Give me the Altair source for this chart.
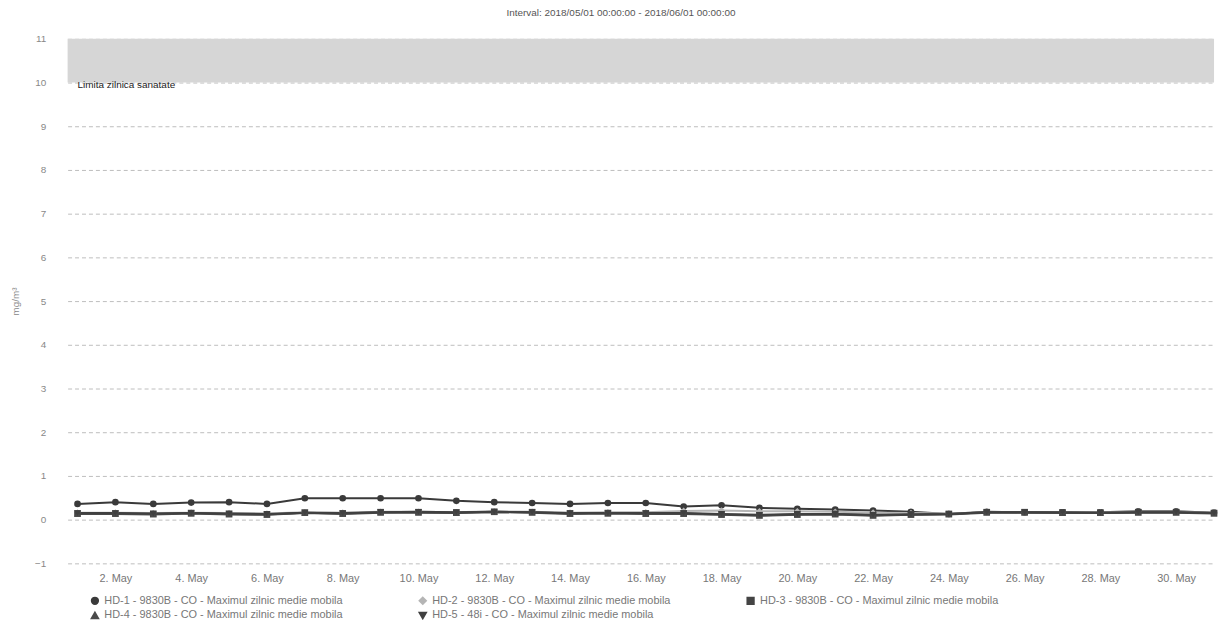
import altair as alt
import pandas as pd

days = [f"2018-05-{d:02d}T00:00:00" for d in range(1, 32)]

series_names = [
    "HD-1 - 9830B - CO - Maximul zilnic medie mobila",
    "HD-2 - 9830B - CO - Maximul zilnic medie mobila",
    "HD-3 - 9830B - CO - Maximul zilnic medie mobila",
    "HD-4 - 9830B - CO - Maximul zilnic medie mobila",
    "HD-5 - 48i - CO - Maximul zilnic medie mobila",
]

hd1 = [0.36, 0.40, 0.36, 0.39, 0.40, 0.36, 0.49, 0.49, 0.49, 0.49, 0.43, 0.40, 0.38, 0.36, 0.38, 0.38,
       0.30, 0.33, 0.27, 0.25, 0.23, 0.21, 0.18, 0.13, 0.18, 0.17, 0.17, 0.17, 0.19, 0.19, 0.16]
hd2 = [0.16, 0.16, 0.15, 0.16, 0.15, 0.14, 0.17, 0.16, 0.18, 0.18, 0.17, 0.19, 0.18, 0.16, 0.17, 0.17,
       0.20, 0.21, 0.19, 0.19, 0.18, 0.16, 0.15, 0.14, 0.17, 0.17, 0.17, 0.17, 0.18, 0.18, 0.16]
hd3 = [0.14, 0.14, 0.13, 0.15, 0.13, 0.12, 0.16, 0.14, 0.17, 0.17, 0.16, 0.18, 0.17, 0.14, 0.15, 0.14,
       0.14, 0.12, 0.10, 0.12, 0.13, 0.10, 0.12, 0.13, 0.17, 0.17, 0.16, 0.16, 0.17, 0.17, 0.15]
hd4 = [0.13, 0.13, 0.12, 0.14, 0.12, 0.11, 0.15, 0.13, 0.16, 0.16, 0.15, 0.17, 0.16, 0.13, 0.14, 0.13,
       0.13, 0.11, 0.09, 0.11, 0.12, 0.09, 0.11, 0.12, 0.16, 0.16, 0.15, 0.15, 0.16, 0.16, 0.14]
hd5 = [0.15, 0.15, 0.14, 0.15, 0.14, 0.13, 0.16, 0.15, 0.17, 0.18, 0.17, 0.18, 0.17, 0.15, 0.15, 0.15,
       0.15, 0.13, 0.11, 0.13, 0.13, 0.11, 0.12, 0.13, 0.17, 0.17, 0.17, 0.16, 0.17, 0.17, 0.15]

series_values = [hd1, hd2, hd3, hd4, hd5]
series_colors = ["#3a3a3a", "#b5b5b5", "#444444", "#4a4a4a", "#404040"]
series_shapes = ["circle", "diamond", "square", "triangle-up", "triangle-down"]

y_ticks = list(range(-1, 12))
x_tick_days = list(range(2, 31, 2))

band_low = [10]
band_high = [11]
band_label = ["Limita zilnica sanatate"]

title_text = "Interval: 2018/05/01 00:00:00 - 2018/06/01 00:00:00"
y_title = "mg/m³"

rows = []
for name, vals in zip(series_names, series_values):
    for d, v in zip(days, vals):
        rows.append({"date": d, "value": v, "series": name})
df = pd.DataFrame(rows)

band_df = pd.DataFrame({"lo": band_low, "hi": band_high, "label": band_label})

FONT = "Liberation Sans"
W, H = 1154, 528

x_scale = alt.Scale(
    domain=[alt.DateTime(year=2018, month=4, date=30, hours=17, minutes=43),
            alt.DateTime(year=2018, month=5, date=31, hours=0)],
    nice=False,
)
y_scale = alt.Scale(domain=[-1, 11], nice=False, zero=False)

band = alt.Chart(band_df).mark_rect(color="#d6d6d6").encode(
    x=alt.value(0), x2=alt.value(W),
    y=alt.Y("lo:Q", scale=y_scale), y2="hi:Q",
)

band_text = alt.Chart(band_df).mark_text(
    align="left", baseline="middle", dx=0, dy=3, font=FONT, fontSize=10, color="#222"
).encode(
    x=alt.value(10), y=alt.Y("lo:Q", scale=y_scale), text="label:N"
)

lines = alt.Chart(df).mark_line(
    strokeWidth=2,
    point=alt.OverlayMarkDef(filled=True, size=45),
).encode(
    x=alt.X("date:T", scale=x_scale, title=None,
            axis=alt.Axis(values=[alt.DateTime(year=2018, month=5, date=d) for d in x_tick_days],
                          format="%-d. %b", labelFont=FONT, labelFontSize=11, labelColor="#777",
                          ticks=False, domain=False, grid=False, labelPadding=9)),
    y=alt.Y("value:Q", scale=y_scale, title=y_title,
            axis=alt.Axis(values=y_ticks, labelFont=FONT, labelFontSize=10, labelColor="#888",
                          ticks=False, domain=False, labelPadding=22,
                          gridDash=[4, 3], gridColor="#bdbdbd", gridWidth=1,
                          titleFont=FONT, titleFontSize=10, titleColor="#888",
                          titleFontWeight="normal", titlePadding=14)),
    color=alt.Color("series:N", sort=series_names,
                    scale=alt.Scale(domain=series_names, range=series_colors),
                    legend=alt.Legend(title=None, orient="none", legendX=22, legendY=560,
                                      direction="horizontal",
                                      columns=3, columnPadding=72, rowPadding=0,
                                      labelFont=FONT, labelFontSize=11, labelColor="#777",
                                      symbolSize=40, labelLimit=400, symbolStrokeWidth=2)),
    shape=alt.Shape("series:N", sort=series_names,
                    scale=alt.Scale(domain=series_names, range=series_shapes), legend=None),
)

chart = alt.layer(band, band_text, lines).properties(
    width=W, height=H,
    autosize=alt.AutoSizeParams(type="none"),
    padding={"left": 60, "top": 29, "right": 4, "bottom": 55},
    title=alt.TitleParams(title_text, font=FONT, fontSize=10, fontWeight="normal",
                          color="#555", anchor="middle", offset=16, dx=-20),
).configure_view(stroke=None)

chart.save("out.html", embed_options={"renderer": "svg", "actions": False})
